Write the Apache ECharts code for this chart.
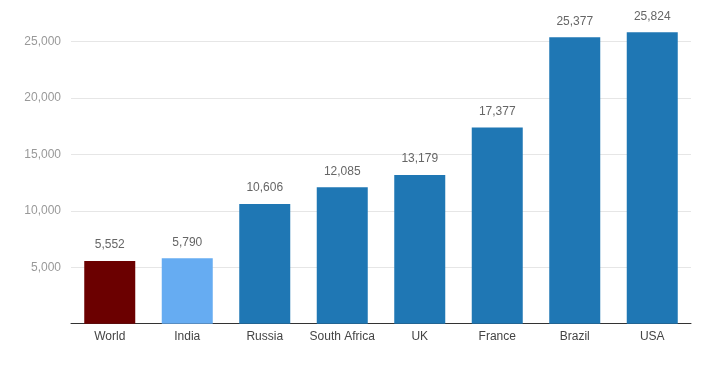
<!DOCTYPE html>
<html><head><meta charset="utf-8">
<script src="https://cdn.jsdelivr.net/npm/echarts@6/dist/echarts.min.js"></script>
<style>html,body{margin:0;padding:0;background:#fff}#c{width:713px;height:372px}</style>
</head><body><div id="c"></div>
<script>
const categories = ['World','India','Russia','South Africa','UK','France','Brazil','USA'];
const values = [5552,5790,10606,12085,13179,17377,25377,25824];
const barColors = ['#6b0000','#66acf2','#1f77b4','#1f77b4','#1f77b4','#1f77b4','#1f77b4','#1f77b4'];
const yTicks = [0,5000,10000,15000,20000,25000];

const chart = echarts.init(document.getElementById('c'), null, {renderer:'canvas'});
chart.setOption({
  animation:false,
  grid:{left:71,right:22,top:30.3,bottom:48.3,containLabel:false},
  xAxis:{type:'category',data:categories,
    axisLine:{lineStyle:{color:'#333',width:1}},axisTick:{show:false},
    axisLabel:{interval:0,color:'#444',fontSize:12,fontFamily:'Liberation Sans, Arial',margin:7}},
  yAxis:{type:'value',min:0,max:26000,interval:5000,
    axisLine:{show:false},axisTick:{show:false},
    axisLabel:{color:'#999',fontSize:12,fontFamily:'Liberation Sans, Arial',margin:10,showMaxLabel:false,
      formatter:v=>v===0?'':(yTicks.includes(v)?v.toLocaleString('en-US'):'')},
    splitLine:{show:true,showMinLine:false,showMaxLine:false,lineStyle:{color:'#e6e6e6',width:1}}},
  series:[{type:'bar',barWidth:51,
    data:values.map((v,i)=>({value:v,itemStyle:{color:barColors[i]}})),
    label:{show:true,position:'top',distance:10,color:'#666',fontSize:12,fontFamily:'Liberation Sans, Arial',
      formatter:p=>p.value.toLocaleString('en-US')}}]
});
</script></body></html>
